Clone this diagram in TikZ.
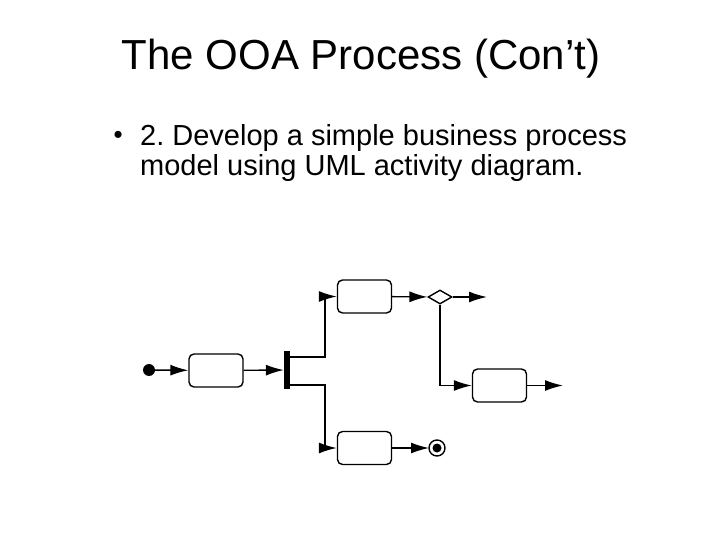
\documentclass[tikz,border=0pt]{standalone}
\usepackage{fontspec}
\setmainfont{Liberation Sans}
\usetikzlibrary{shapes.geometric,arrows.meta}
\begin{document}
\frenchspacing
\begin{tikzpicture}[x=1pt,y=-1pt,
  act/.style={draw,line width=1.4pt,rounded corners=5pt,minimum width=54pt,minimum height=33pt,inner sep=0pt},
  flow/.style={line width=1.4pt,-{Latex[length=18pt,width=11pt]}},
  ln/.style={line width=1.4pt}]
\useasboundingbox (0,0) rectangle (720,540);
\node[font=\fontsize{42}{48}\selectfont] (title) at (361,59) {The OOA Process (Con’t)};
\node[anchor=west,font=\fontsize{26}{30}\selectfont] (b) at (110,137) {•};
\node[anchor=west,font=\fontsize{29}{30}\selectfont,align=left,inner sep=0pt] (t1) at (140,153) {2. Develop a simple business process\\model using UML activity diagram.};
\fill (149,370) circle (6) coordinate (start);
\node[act] (a1) at (216,370.5) {};
\node[fill,minimum width=6pt,minimum height=38pt,inner sep=0pt] (bar) at (287,370) {};
\node[act] (a2) at (364.5,296.5) {};
\node[draw,diamond,line width=1.4pt,minimum width=24pt,minimum height=14pt,inner sep=0pt,fill=white] (d) at (440,297) {};
\node[act] (a3) at (499.5,385.5) {};
\node[act] (a4) at (364.5,448) {};
\draw[line width=1.4pt] (437,448) circle (8);
\fill (437,448) circle (4.5);
\coordinate (fin) at (429,448);
\coordinate (o1) at (487,297);
\coordinate (o2) at (563,385.5);
\draw[flow] (start) -- (a1);
\draw[flow] (a1) -- (bar);
\draw[flow] (bar.east |- 0,357) -| (325,296.5) -- (a2);
\draw[flow] (bar.east |- 0,385) -| (325,448) -- (a4);
\draw[flow] (a2) -- (d);
\draw[flow] (d) -- (o1);
\draw[flow] (d.south) |- (a3);
\draw[flow] (a3) -- (o2);
\draw[flow] (a4) -- (fin);
\end{tikzpicture}
\end{document}
